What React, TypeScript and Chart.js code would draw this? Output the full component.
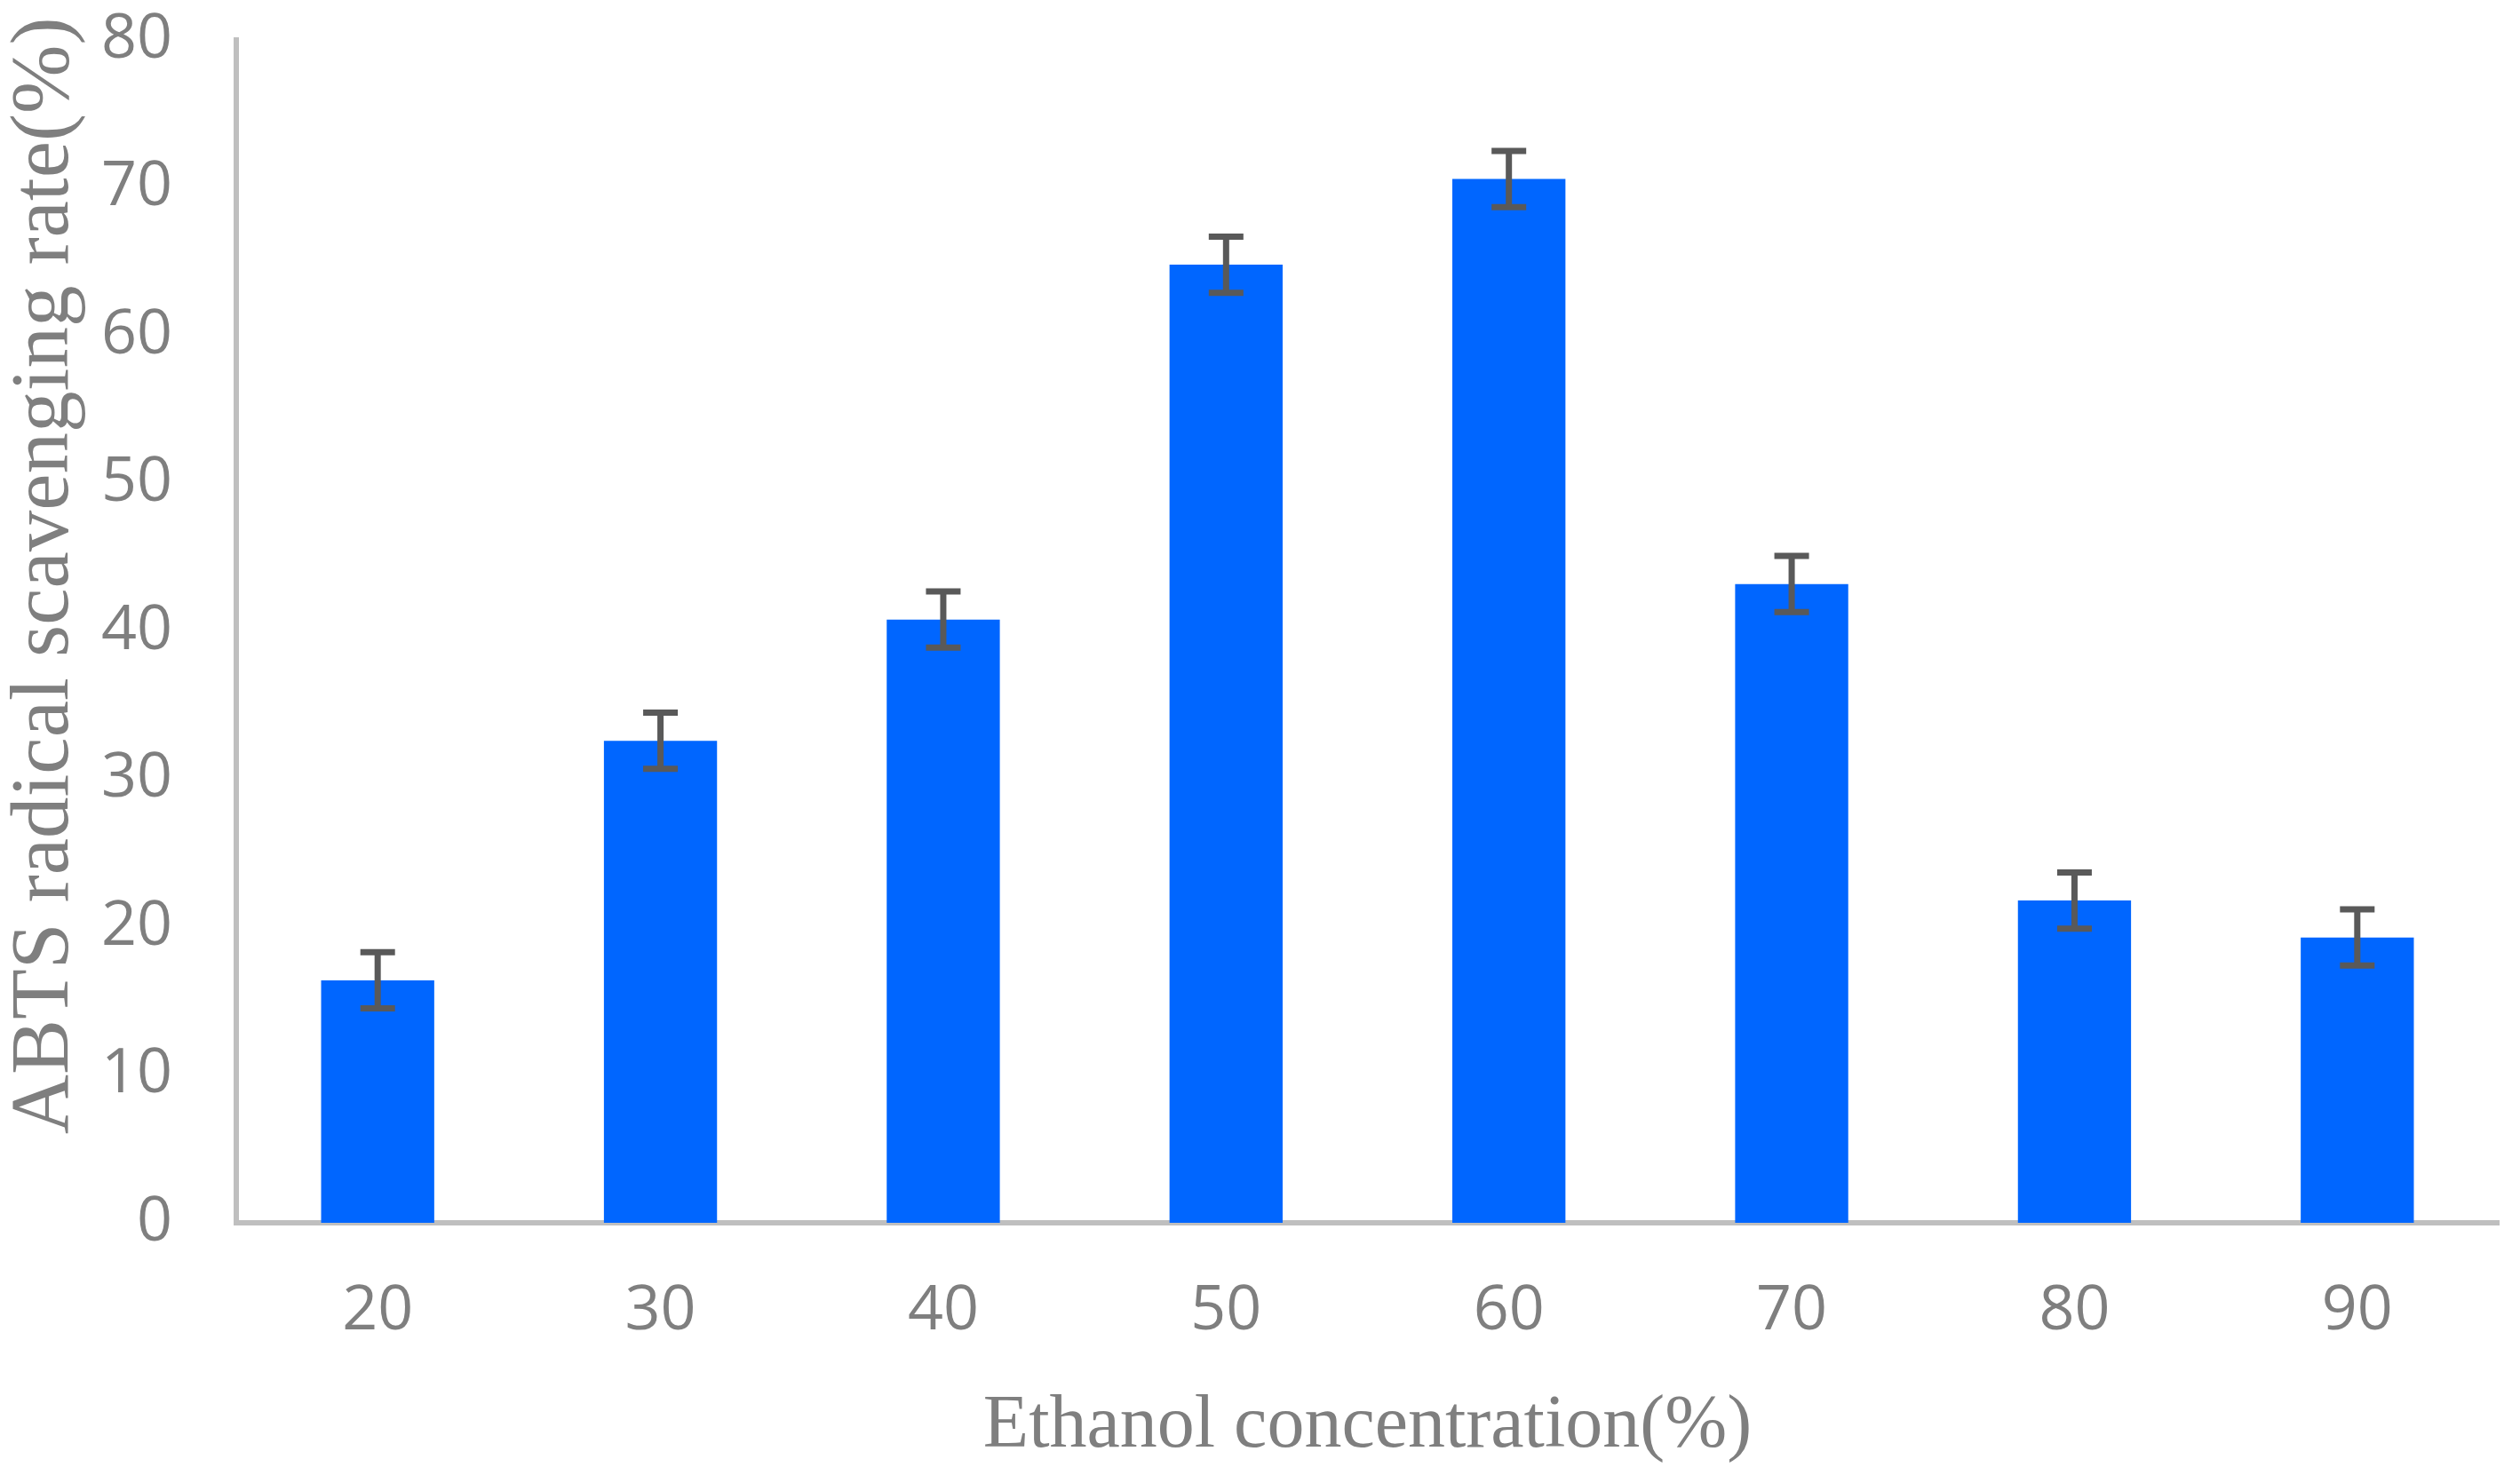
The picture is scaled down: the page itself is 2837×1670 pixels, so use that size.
import React, { useEffect, useRef } from "react";
import { Chart, registerables } from "chart.js";

Chart.register(...registerables);

const categories = ["20", "30", "40", "50", "60", "70", "80", "90"];
const scavengingRate = [16.4, 32.6, 40.8, 64.8, 70.6, 43.2, 21.8, 19.3];
const errorValues = [1.9, 1.9, 1.9, 1.9, 1.9, 1.9, 1.9, 1.9];
const yMin = 0;
const yMax = 80;
const yStep = 10;
const xTitle = "Ethanol concentration(%)";
const yTitle = "ABTS radical scavenging rate(%)";

const GRAY_TEXT = "#7f7f7f";
const AXIS_GRAY = "#bfbfbf";
const BAR_BLUE = "#0066ff";
const ERR_GRAY = "#595959";

const errorBarPlugin = {
  id: "errorBars",
  afterDatasetsDraw(chart: any) {
    const ctx = chart.ctx;
    const yScale = chart.scales.y;
    const meta = chart.getDatasetMeta(0);
    ctx.save();
    ctx.strokeStyle = ERR_GRAY;
    ctx.lineWidth = 7;
    ctx.lineCap = "butt";
    meta.data.forEach((el: any, i: number) => {
      const v = scavengingRate[i];
      const e = errorValues[i];
      const x = el.x;
      const yTop = yScale.getPixelForValue(v + e);
      const yBot = yScale.getPixelForValue(v - e);
      const half = 19.5;
      ctx.beginPath();
      ctx.moveTo(x, yTop);
      ctx.lineTo(x, yBot);
      ctx.moveTo(x - half, yTop);
      ctx.lineTo(x + half, yTop);
      ctx.moveTo(x - half, yBot);
      ctx.lineTo(x + half, yBot);
      ctx.stroke();
    });
    ctx.restore();
  },
};

const yTitlePlugin = {
  id: "yTitleCustom",
  afterDraw(chart: any) {
    const ctx = chart.ctx;
    const area = chart.chartArea;
    const cx = area.left - 214;
    const cy = area.top + (area.bottom - area.top) * 0.453;
    ctx.save();
    ctx.translate(cx, cy);
    ctx.rotate(-Math.PI / 2);
    ctx.font = "93px 'Liberation Serif', 'Times New Roman', serif";
    ctx.fillStyle = GRAY_TEXT;
    ctx.textAlign = "center";
    ctx.textBaseline = "middle";
    ctx.fillText(yTitle, 0, 0);
    ctx.restore();
  },
};

export default function App() {
  const canvasRef = useRef<HTMLCanvasElement | null>(null);

  useEffect(() => {
    if (!canvasRef.current) return;
    const chart = new Chart(canvasRef.current, {
      type: "bar",
      data: {
        labels: categories,
        datasets: [
          {
            data: scavengingRate,
            backgroundColor: BAR_BLUE,
            borderWidth: 0,
            barPercentage: 0.4,
            categoryPercentage: 1.0,
          },
        ],
      },
      options: {
        responsive: false,
        animation: false,
        devicePixelRatio: 1,
        layout: { padding: { left: 0, right: 24, top: 45, bottom: 0 } },
        plugins: {
          legend: { display: false },
          tooltip: { enabled: false },
        },
        scales: {
          x: {
            grid: { display: false, drawTicks: false },
            border: { display: true, color: AXIS_GRAY, width: 6 },
            ticks: {
              color: GRAY_TEXT,
              font: { family: "'Open Sans', sans-serif", size: 70 },
              padding: 58,
            },
            title: {
              display: true,
              text: xTitle,
              color: GRAY_TEXT,
              font: { family: "'Liberation Serif', 'Times New Roman', serif", size: 84 },
              padding: { top: 0, bottom: 13 },
            },
            afterFit(scale: any) {
              scale.height = 293;
            },
          },
          y: {
            min: yMin,
            max: yMax,
            grid: { display: false, drawTicks: false },
            border: { display: true, color: AXIS_GRAY, width: 6 },
            ticks: {
              stepSize: yStep,
              color: GRAY_TEXT,
              font: { family: "'Open Sans', sans-serif", size: 70 },
              padding: 72,
            },
            afterFit(scale: any) {
              scale.width = 266;
              scale.paddingTop = 0;
              scale.paddingBottom = 0;
            },
          },
        },
      },
      plugins: [errorBarPlugin, yTitlePlugin],
    });
    return () => chart.destroy();
  }, []);

  return (
    <div style={{ position: "absolute", left: 0, top: 0, width: 2837, height: 1670, background: "#fff" }}>
      <canvas ref={canvasRef} width={2837} height={1670} style={{ display: "block" }} />
    </div>
  );
}
